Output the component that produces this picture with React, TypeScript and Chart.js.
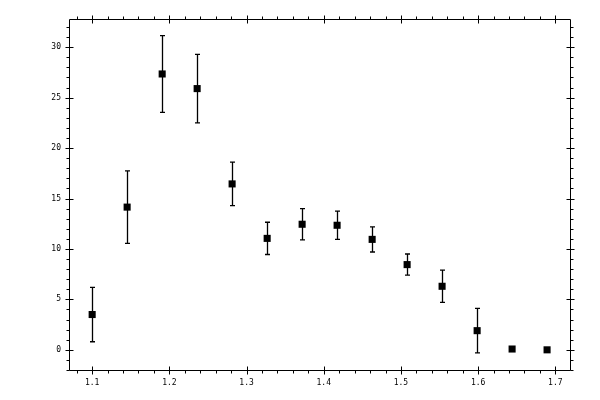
import React, { useEffect, useRef } from 'react';
import { Chart, registerables } from 'chart.js';

Chart.register(...registerables);

// measured points (x, y, symmetric y error)
const xValues = [1.1, 1.1453, 1.1907, 1.236, 1.2813, 1.3267, 1.372, 1.4173, 1.4627, 1.508, 1.5533, 1.5987, 1.644, 1.6893];
const yValues = [3.5, 14.15, 27.35, 25.9, 16.45, 11.05, 12.45, 12.35, 10.95, 8.45, 6.3, 1.9, 0.08, 0.0];
const yErrors = [2.7, 3.6, 3.8, 3.4, 2.15, 1.6, 1.55, 1.4, 1.25, 1.05, 1.6, 2.2, 0, 0];

const xTickValues = [1.1, 1.2, 1.3, 1.4, 1.5, 1.6, 1.7];
const yTickValues = [0, 5, 10, 15, 20, 25, 30];

const X_MIN = 1.07;
const X_MAX = 1.719;
const Y_MIN = -2;
const Y_MAX = 32.8;
const X_MINOR = 0.02;
const Y_MINOR = 1;

const font = { family: "'DejaVu Sans Mono', monospace", size: 8 };

const errorBars = {
  id: 'errorBars',
  beforeDatasetsDraw(chart: any) {
    const { ctx, scales } = chart;
    ctx.save();
    ctx.strokeStyle = '#000';
    ctx.lineWidth = 1.3;
    xValues.forEach((xv, i) => {
      const err = yErrors[i];
      if (!err) return;
      const px = Math.round(scales.x.getPixelForValue(xv)) + 0.5;
      const top = scales.y.getPixelForValue(yValues[i] + err);
      const bot = scales.y.getPixelForValue(yValues[i] - err);
      ctx.beginPath();
      ctx.moveTo(px, top);
      ctx.lineTo(px, bot);
      ctx.moveTo(px - 2.5, top);
      ctx.lineTo(px + 2.5, top);
      ctx.moveTo(px - 2.5, bot);
      ctx.lineTo(px + 2.5, bot);
      ctx.stroke();
    });
    ctx.restore();
  }
};

const isMajor = (v: number, majors: number[]) => majors.some((m) => Math.abs(m - v) < 1e-6);

const frameTicks = {
  id: 'frameTicks',
  afterDraw(chart: any) {
    const { ctx, chartArea: a, scales } = chart;
    const L = Math.round(a.left) + 0.5;
    const R = Math.round(a.right) + 0.5;
    const T = Math.round(a.top) + 0.5;
    const B = Math.round(a.bottom) + 0.5;
    ctx.save();
    ctx.strokeStyle = '#000';
    ctx.lineWidth = 1;
    ctx.beginPath();
    ctx.rect(L, T, R - L, B - T);

    const n = Math.ceil(X_MIN / X_MINOR - 1e-9);
    for (let k = n; k * X_MINOR <= X_MAX + 1e-9; k++) {
      const v = k * X_MINOR;
      const px = Math.round(scales.x.getPixelForValue(v)) + 0.5;
      if (isMajor(v, xTickValues)) {
        ctx.moveTo(px, B - 4); ctx.lineTo(px, B + 4);
        ctx.moveTo(px, T - 4); ctx.lineTo(px, T + 4);
      } else {
        ctx.moveTo(px, B); ctx.lineTo(px, B + 3);
        ctx.moveTo(px, T); ctx.lineTo(px, T - 3);
      }
    }
    const m = Math.ceil(Y_MIN / Y_MINOR - 1e-9);
    for (let k = m; k * Y_MINOR <= Y_MAX + 1e-9; k++) {
      const v = k * Y_MINOR;
      const py = Math.round(scales.y.getPixelForValue(v)) + 0.5;
      if (isMajor(v, yTickValues)) {
        ctx.moveTo(L - 4, py); ctx.lineTo(L + 4, py);
        ctx.moveTo(R - 4, py); ctx.lineTo(R + 4, py);
      } else {
        ctx.moveTo(L, py); ctx.lineTo(L - 3, py);
        ctx.moveTo(R, py); ctx.lineTo(R + 3, py);
      }
    }
    ctx.stroke();
    ctx.restore();
  }
};

const App = () => {
  const chartRef = useRef<HTMLCanvasElement>(null);

  useEffect(() => {
    if (!chartRef.current) return;
    const chart = new Chart(chartRef.current, {
      type: 'scatter',
      data: {
        datasets: [
          {
            data: xValues.map((x, i) => ({ x, y: yValues[i] })),
            backgroundColor: '#000',
            borderWidth: 0,
            pointStyle: 'rect',
            pointRadius: 5,
            pointHoverRadius: 5
          }
        ]
      },
      options: {
        responsive: false,
        animation: false,
        devicePixelRatio: 1,
        layout: { padding: { left: 0, top: 19, right: 30, bottom: 0 } },
        scales: {
          x: {
            type: 'linear',
            min: X_MIN,
            max: X_MAX,
            grid: { display: false, drawTicks: false },
            border: { display: false },
            afterBuildTicks: (s: any) => {
              s.ticks = xTickValues.map((value) => ({ value }));
            },
            afterFit: (s: any) => {
              s.height = 30;
            },
            ticks: {
              color: '#000',
              font,
              padding: 8,
              maxRotation: 0,
              autoSkip: false,
              callback: (v: any) => Number(v).toFixed(1)
            }
          },
          y: {
            type: 'linear',
            min: Y_MIN,
            max: Y_MAX,
            grid: { display: false, drawTicks: false },
            border: { display: false },
            afterBuildTicks: (s: any) => {
              s.ticks = yTickValues.map((value) => ({ value }));
            },
            afterFit: (s: any) => {
              s.width = 69;
            },
            ticks: {
              color: '#000',
              font,
              padding: 8,
              autoSkip: false,
              callback: (v: any) => String(v)
            }
          }
        },
        plugins: {
          legend: { display: false },
          tooltip: { enabled: false }
        }
      },
      plugins: [errorBars, frameTicks]
    });

    return () => {
      chart.destroy();
    };
  }, []);

  return (
    <div style={{ position: 'absolute', left: 0, top: 0, width: 600, height: 400, background: '#fff' }}>
      <canvas ref={chartRef} width={600} height={400} />
    </div>
  );
};

export default App;
